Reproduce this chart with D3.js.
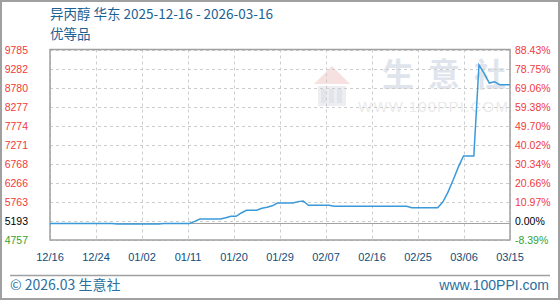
<!DOCTYPE html>
<html>
<head>
<meta charset="utf-8">
<script src="https://cdn.jsdelivr.net/npm/d3@7"></script>
<style>
  body { margin: 0; background: #fff; }
  svg { display: block; }
</style>
</head>
<body>
<div id="chart"></div>
<script>
const W = 560, H = 300;

// data (dates and price)
const dates = ["2025-12-16","2025-12-28","2025-12-29","2026-01-06","2026-01-07","2026-01-12","2026-01-13","2026-01-14",
  "2026-01-18","2026-01-19","2026-01-20","2026-01-21","2026-01-22","2026-01-23","2026-01-25","2026-01-26","2026-01-27",
  "2026-01-28","2026-01-29","2026-02-01","2026-02-02","2026-02-03","2026-02-04","2026-02-08","2026-02-09","2026-02-23",
  "2026-02-24","2026-02-28","2026-03-01","2026-03-02","2026-03-03","2026-03-04","2026-03-05","2026-03-06","2026-03-08",
  "2026-03-09","2026-03-10","2026-03-11","2026-03-12","2026-03-13","2026-03-15"];
const prices = [5193,5193,5178,5178,5193,5193,5250,5311,
  5311,5345,5382,5382,5470,5541,5541,5594,5620,
  5660,5733,5733,5770,5786,5672,5672,5646,5646,
  5610,5610,5610,5760,6020,6340,6680,6974,6974,
  9376,9157,8900,8935,8857,8857];

const basePrice = 5193;
const yLabels = ["4757","5193","5763","6266","6768","7271","7774","8277","8780","9282","9785"];
const pctLabels = ["-8.39%","0.00%","10.97%","20.66%","30.34%","40.02%","49.70%","59.38%","69.06%","78.75%","88.43%"];
const xLabels = ["12/16","12/24","01/02","01/11","01/20","01/29","02/07","02/16","02/25","03/06","03/15"];

const parse = d3.timeParse("%Y-%m-%d");
const data = dates.map((d, i) => ({date: parse(d), value: prices[i]}));

const pLeft = 50, pRight = 510, pTop = 49.5, pBottom = 240;

const x = d3.scaleTime()
  .domain([parse("2025-12-16"), parse("2026-03-15")])
  .range([pLeft, pRight]);
const y = d3.scaleLinear()
  .domain([+yLabels[0], +yLabels[yLabels.length - 1]])
  .range([pBottom, pTop]);

// tick label positions, evenly spread like the original
const xTick = d3.scalePoint().domain(xLabels).range([pLeft, pRight]);
const yTick = d3.scalePoint().domain(d3.range(yLabels.length)).range([pBottom, pTop]);

const svg = d3.select("#chart").append("svg")
  .attr("width", W).attr("height", H);

svg.append("rect").attr("x", 1).attr("y", 1).attr("width", W - 2).attr("height", H - 2)
  .attr("fill", "#fff").attr("stroke", "#a0a0a0").attr("stroke-width", 2);

// title
svg.append("text").attr("x", 50).attr("y", 19)
  .attr("font-family", "'Noto Sans CJK SC', sans-serif").attr("font-size", 13.5)
  .attr("fill", "#1c6193").text("异丙醇 华东 2025-12-16 - 2026-03-16");
svg.append("text").attr("x", 50).attr("y", 39)
  .attr("font-family", "'Noto Sans CJK SC', sans-serif").attr("font-size", 13.5)
  .attr("fill", "#1c6193").text("优等品");

// watermark
const wm = svg.append("g");
wm.append("polygon").attr("points", "314,84 332,66 350,84").attr("fill", "#f6e0e0");
wm.append("rect").attr("x", 318).attr("y", 86).attr("width", 28).attr("height", 20).attr("fill", "#eceef2");
wm.selectAll("rect.col").data([0, 1, 2]).enter().append("rect")
  .attr("class", "col")
  .attr("x", d => 321 + d * 8).attr("y", 89).attr("width", 5).attr("height", 14)
  .attr("fill", "#e1e5eb");
wm.selectAll("text.wm").data(["生", "意", "社"]).enter().append("text")
  .attr("class", "wm")
  .attr("x", (d, i) => 398 + i * 46).attr("y", 86)
  .attr("text-anchor", "middle")
  .attr("font-family", "'Noto Sans CJK SC', sans-serif").attr("font-weight", "bold")
  .attr("font-size", 32).attr("fill", "#e0e5ed").text(d => d);
wm.append("text").attr("x", 433).attr("y", 112).attr("text-anchor", "middle")
  .attr("font-family", "'Liberation Sans', sans-serif").attr("font-size", 15)
  .attr("textLength", 150).attr("fill", "#ebebeb").text("WWW.100PPI.COM");

// grid
svg.append("g").selectAll("line")
  .data(d3.range(yLabels.length))
  .enter().append("line")
  .attr("x1", pLeft).attr("x2", pRight)
  .attr("y1", d => Math.round(yTick(d)) + 0.5).attr("y2", d => Math.round(yTick(d)) + 0.5)
  .attr("stroke", "#cccccc").attr("stroke-dasharray", "3,3");
svg.append("g").selectAll("line")
  .data(xLabels)
  .enter().append("line")
  .attr("x1", d => Math.round(xTick(d)) + 0.5).attr("x2", d => Math.round(xTick(d)) + 0.5)
  .attr("y1", pTop).attr("y2", pBottom)
  .attr("stroke", "#cccccc").attr("stroke-dasharray", "3,3");

// base price line
svg.append("line")
  .attr("x1", pLeft).attr("x2", pRight)
  .attr("y1", y(basePrice)).attr("y2", y(basePrice))
  .attr("stroke", "#a0a0a0").attr("stroke-width", 1);

// plot frame
svg.append("rect").attr("x", pLeft).attr("y", pTop).attr("width", pRight - pLeft).attr("height", pBottom - pTop)
  .attr("fill", "none").attr("stroke", "#a0a0a0").attr("stroke-width", 1.5);

// price line
const line = d3.line().x(d => x(d.date)).y(d => y(d.value));
svg.append("path").datum(data)
  .attr("d", line)
  .attr("fill", "none").attr("stroke", "#3a9ad9").attr("stroke-width", 1.5);

// y labels left and right
const labelColor = i => i === 0 ? "#33a133" : (i === 1 ? "#000" : "#f03a3a");
svg.append("g").selectAll("text")
  .data(yLabels)
  .enter().append("text")
  .attr("x", 28).attr("y", (d, i) => yTick(i) + 4)
  .attr("text-anchor", "end")
  .attr("font-family", "'Liberation Sans', sans-serif").attr("font-size", 10.5)
  .attr("fill", (d, i) => labelColor(i)).text(d => d);
svg.append("g").selectAll("text")
  .data(pctLabels)
  .enter().append("text")
  .attr("x", 515).attr("y", (d, i) => yTick(i) + 4)
  .attr("font-family", "'Liberation Sans', sans-serif").attr("font-size", 10.5)
  .attr("fill", (d, i) => labelColor(i)).text(d => d);

// x labels
svg.append("g").selectAll("text")
  .data(xLabels)
  .enter().append("text")
  .attr("x", d => xTick(d)).attr("y", 261)
  .attr("text-anchor", "middle")
  .attr("font-family", "'Liberation Sans', sans-serif").attr("font-size", 11)
  .attr("fill", "#0d4d7a").text(d => d);

// footer
svg.append("line").attr("x1", 10).attr("x2", 550).attr("y1", 275.5).attr("y2", 275.5)
  .attr("stroke", "#a0a0a0").attr("stroke-width", 1.5);
svg.append("text").attr("x", 10).attr("y", 290)
  .attr("font-family", "'Noto Sans CJK SC', sans-serif").attr("font-size", 14)
  .attr("fill", "#2b6fa0").text("© 2026.03 生意社");
svg.append("text").attr("x", 549).attr("y", 290).attr("text-anchor", "end")
  .attr("font-family", "'Liberation Sans', sans-serif").attr("font-size", 14)
  .attr("fill", "#2b6fa0").text("www.100PPI.com");
</script>
</body>
</html>
